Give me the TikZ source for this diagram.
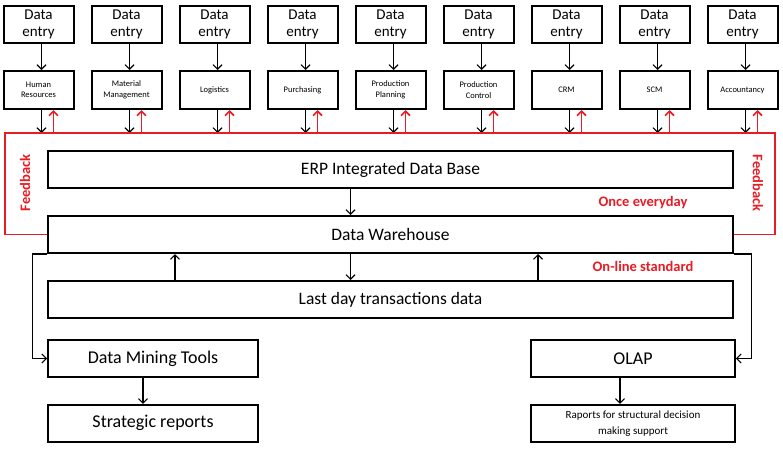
\documentclass[tikz,border=0pt]{standalone}
\usepackage{fontspec}
\setmainfont{Carlito}
\usetikzlibrary{arrows.meta,positioning}
\definecolor{fbred}{RGB}{232,28,36}
\begin{document}
\begin{tikzpicture}[x=1pt, y=-1pt,
    entry/.style={draw, line width=2pt, minimum width=70pt, minimum height=37pt, align=center, inner sep=1pt, font=\fontsize{15}{17}\selectfont},
    module/.style={draw, line width=2pt, minimum width=70pt, minimum height=38pt, align=center, inner sep=1pt, font=\fontsize{8.5}{10.5}\selectfont},
    wide/.style={draw, line width=2pt, minimum width=685pt, minimum height=37pt, font=\fontsize{17.5}{20}\selectfont},
    tool/.style={draw, line width=1.8pt, minimum width=#1, minimum height=37pt, align=center, font=\fontsize{18}{20}\selectfont},
    arr/.style={-{Straight Barb[length=4.5pt,width=9pt]}, line width=1.1pt},
    fbarr/.style={-{Straight Barb[length=4.5pt,width=9pt]}, line width=1.6pt, fbred},
    note/.style={text=fbred, font=\fontsize{14.5}{16}\selectfont\bfseries}
]
\useasboundingbox (0,0) rectangle (783,450);
\coordinate (fbl) at (5,133);
\coordinate (fbr) at (775,133);

\foreach \name [count=\i] in {Human\\Resources, Material\\Management, Logistics, Purchasing, Production\\Planning, Production\\Control, CRM, SCM, Accountancy} {
  \node[entry] (e\i) at (38.5+88*\i-88, 24.5) {Data\\entry};
  \node[module, below=26pt of e\i] (m\i) {\name};
  \draw[arr] ([xshift=3pt]e\i.south) -- ([xshift=3pt]m\i.north);
  \draw[arr] ([xshift=3pt]m\i.south) -- ([xshift=3pt]m\i.south |- fbl);
  \draw[fbarr] ([xshift=15pt]m\i.south |- fbl) -- ([xshift=15pt]m\i.south);
}

\node[wide] (erp) at (390.5, 169.5) {ERP Integrated Data Base};
\node[wide, below=26pt of erp] (dw) {Data Warehouse};
\node[wide, below=26pt of dw] (ld) {Last day transactions data};

\node[tool=210pt] (dmt) at (153, 358.5) {Data Mining Tools};
\node[tool=210pt, below=26pt of dmt] (sr) {Strategic reports};
\node[tool=204pt] (olap) at (633, 358.5) {OLAP};
\node[tool=204pt, below=26pt of olap, font=\fontsize{11}{16}\selectfont] (rep) {Raports for structural decision\\making support};

\draw[fbred, line width=1.1pt] (dw.west) -| (fbl) -- (fbr) |- (dw.east);
\node[note, rotate=90] (fbleft) at (25, 183) {Feedback};
\node[note, rotate=-90] (fbright) at (758, 183) {Feedback};
\node[note] (once) at (643, 203) {Once everyday};
\node[note] (online) at (643, 266) {On-line standard};

\draw[arr] ([xshift=-40pt]erp.south) -- ([xshift=-40pt]dw.north);
\draw[arr] ([xshift=-40pt]dw.south) -- ([xshift=-40pt]ld.north);
\draw[arr] ([xshift=-215.5pt]ld.north) -- ([xshift=-215.5pt]dw.south);
\draw[arr] ([xshift=147.5pt]ld.north) -- ([xshift=147.5pt]dw.south);

\draw[arr] (dw.south west) -| ([xshift=-15pt]dmt.west) -- (dmt.west);
\draw[arr] (dw.south east) -| ([xshift=16pt]olap.east) -- (olap.east);
\draw[arr] ([xshift=-10pt]dmt.south) -- ([xshift=-10pt]sr.north);
\draw[arr] ([xshift=-13pt]olap.south) -- ([xshift=-13pt]rep.north);
\end{tikzpicture}
\end{document}
